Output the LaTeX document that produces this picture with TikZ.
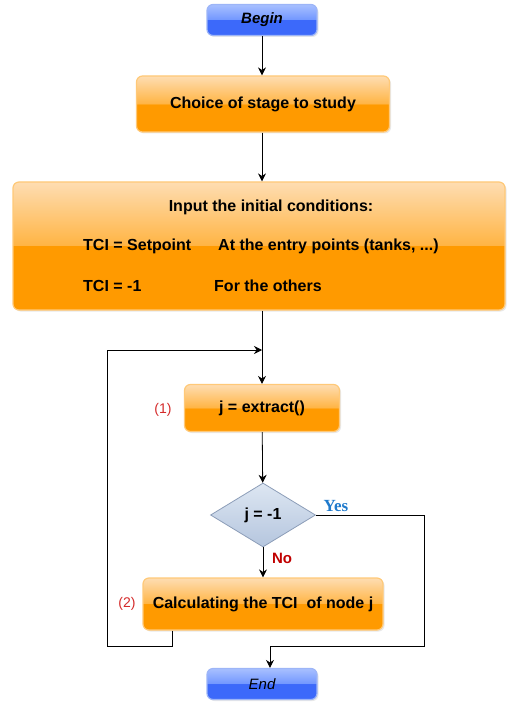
\documentclass[tikz,border=0pt]{standalone}
\usepackage{fontspec}
\setmainfont{Liberation Sans}
\newfontfamily\yesfont{Liberation Serif}
\usetikzlibrary{arrows.meta,shapes.geometric,shadows,calc}
\definecolor{otop}{HTML}{FEDDB2}
\definecolor{omid}{HTML}{FFB443}
\definecolor{obot}{HTML}{FF9A00}
\definecolor{orim}{HTML}{FFC978}
\definecolor{btop}{HTML}{A8C0FF}
\definecolor{bmid}{HTML}{7196FF}
\definecolor{bbot}{HTML}{3C69FA}
\definecolor{brim}{HTML}{9DB5F7}
\definecolor{dtop}{HTML}{DDE6F2}
\definecolor{dbot}{HTML}{B5C6DE}
\definecolor{drim}{HTML}{8C9DB8}
\definecolor{yesblue}{HTML}{1F7ACC}
\definecolor{nored}{HTML}{C00000}
\definecolor{numred}{HTML}{D42A2A}
\pgfdeclareverticalshading{orangebar}{100bp}{color(0bp)=(obot); color(25bp)=(obot); color(50bp)=(obot); color(50.1bp)=(omid); color(75bp)=(otop); color(100bp)=(otop)}
\pgfdeclareverticalshading{bluebar}{100bp}{color(0bp)=(bbot); color(25bp)=(bbot); color(50bp)=(bbot); color(50.1bp)=(bmid); color(75bp)=(btop); color(100bp)=(btop)}
\tikzset{>/.tip={Stealth[length=8pt,width=8pt]}}
\tikzset{
  stagebox/.style={rectangle,rounded corners=6pt,shading=orangebar,draw=orim,line width=1.2pt,
    drop shadow={opacity=0.18,shadow xshift=1.5pt,shadow yshift=-1.5pt},
    inner sep=0pt,font=\fontsize{16}{19}\selectfont\bfseries},
  endbox/.style={rectangle,rounded corners=6pt,shading=bluebar,draw=brim,line width=1.2pt,
    drop shadow={opacity=0.18,shadow xshift=1.5pt,shadow yshift=-1.5pt},
    minimum width=110pt,minimum height=31pt,inner sep=0pt},
  testbox/.style={diamond,top color=dtop,bottom color=dbot,draw=drim,line width=0.8pt,
    minimum width=105pt,minimum height=64pt,inner sep=0pt,aspect=1.64,
    font=\fontsize{16}{19}\selectfont\bfseries},
  linetext/.style={anchor=west,inner sep=0pt,font=\fontsize{16}{19}\selectfont\bfseries},
  stepnum/.style={text=numred,font=\fontsize{14}{17}\selectfont},
  flow/.style={draw=black,line width=0.8pt}
}
\begin{document}
\begin{tikzpicture}[x=1pt,y=-1pt]
        \useasboundingbox (0,0) rectangle (510,703);
        \node(begin)[endbox] at (262,20){\fontsize{15}{17}\selectfont\bfseries\itshape Begin};
        \node(choice)[stagebox,minimum width=253pt,minimum height=56pt] at (263,104){Choice of stage to study};
        \node(input)[stagebox,minimum width=492pt,minimum height=128pt] at (259,246){};
        \node(title)[linetext,anchor=center] at (271,207){Input the initial conditions:};
        \node(tcia)[linetext] at (83,246){TCI = Setpoint};
        \node(entry)[linetext] at (218,246){At the entry points (tanks, ...)};
        \node(tcib)[linetext] at (83,286){TCI = -1};
        \node(others)[linetext] at (214,286){For the others};
        \node(extract)[stagebox,minimum width=155pt,minimum height=47pt] at (262,408){j = extract()};
        \node(one)[stepnum] at (163,410){(1)};
        \node(test)[testbox] at (263,515){j = -1};
        \node(yes)[text=yesblue,font=\yesfont\fontsize{17}{20}\selectfont\bfseries] at (336,506){Yes};
        \node(no)[text=nored,font=\fontsize{15}{18}\selectfont\bfseries] at (282,558){No};
        \node(calc)[stagebox,minimum width=240pt,minimum height=52pt] at (263,604){Calculating the TCI\ \ of node j};
        \node(two)[stepnum] at (127,604){(2)};
        \node(end)[endbox] at (262,684){\fontsize{15}{17}\selectfont\itshape End};
        % loop and merge points
        \coordinate(merge) at (262,350);
        \coordinate(loopa) at (172,646);
        \coordinate(loopb) at (107,646);
        \coordinate(yesa) at (424,646);
        \coordinate(yesb) at (270,646);
        \draw[flow,->] (begin) -- (choice.north -| begin);
        \draw[flow,->] (choice.south -| begin) -- (input.north -| begin);
        \draw[flow,->] (input.south -| merge) -- (extract);
        \draw[flow,->] (extract) -- (test);
        \draw[flow,->] (test) -- (calc);
        \draw[flow,->] (calc.south -| loopa) -- (loopa) -- (loopb) |- (merge);
        \draw[flow,->] (test.east) -| (yesa) -- (yesb) -- (end.north -| yesb);
      \end{tikzpicture}
\end{document}
